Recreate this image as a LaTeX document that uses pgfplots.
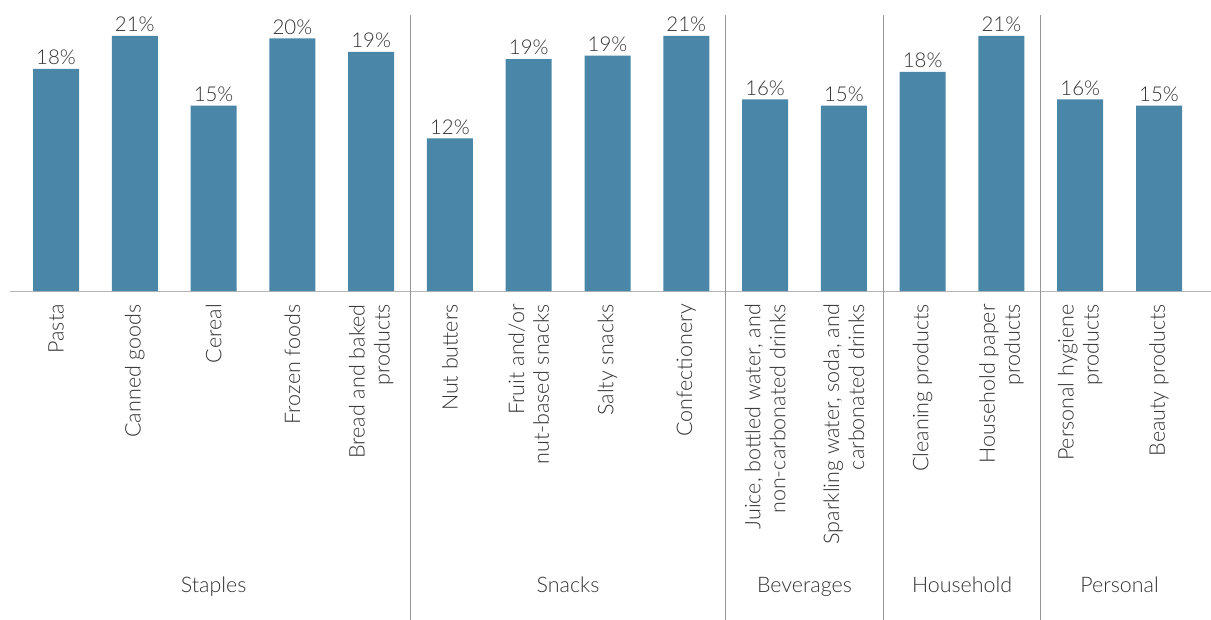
\documentclass[border=0pt]{standalone}
\usepackage{pgfplots}
\pgfplotsset{compat=1.18}
\usepackage{fontspec}
\setmainfont{Lato Light}
\definecolor{barblue}{RGB}{74,134,168}
\definecolor{txt}{RGB}{50,50,50}
\definecolor{sep}{RGB}{150,150,150}
\begin{document}
\begin{tikzpicture}
\useasboundingbox (-10bp,-329bp) rectangle (1201bp,291bp);
\begin{axis}[
  at={(0,0)}, anchor=south west,
  scale only axis, width=1201bp, height=276bp,
  xmin=-0.584, xmax=14.66, ymin=0, ymax=22.62,
  axis x line=bottom, hide y axis,
  axis line style={draw=sep!70, line width=1pt, -},
  xtick=data, major tick length=0pt,
  xticklabels={Pasta, Canned goods, Cereal, Frozen foods, {Bread and baked\\products}, Nut butters, {Fruit and/or\\nut-based snacks}, Salty snacks, Confectionery, {Juice, bottled water, and\\non-carbonated drinks}, {Sparkling water, soda, and\\carbonated drinks}, Cleaning products, {Household paper\\products}, {Personal hygiene\\products}, Beauty products},
  xticklabel style={rotate=90, anchor=east, align=right, inner sep=0pt, font=\fontsize{21.6}{25}\selectfont, text=txt},
  xticklabel shift=13bp,
  clip=false,
  point meta=explicit symbolic,
  nodes near coords={\pgfplotspointmeta\%},
  nodes near coords style={font=\fontsize{20.5}{24}\selectfont, text=txt, anchor=south, inner sep=4bp},
]
\addplot[ybar, bar width=46bp, fill=barblue, draw=none] table[x=x, y=y, meta=lab] {
x y lab
0 18.2 18
1 20.9 21
2 15.2 15
3 20.7 20
4 19.6 19
5 12.5 12
6 19.0 19
7 19.3 19
8 20.9 21
9 15.7 16
10 15.2 15
11 17.95 18
12 20.9 21
13 15.7 16
14 15.2 15
};
\draw[sep, line width=1pt] (axis cs:4.5,22.62) -- ([yshift=-329bp]axis cs:4.5,0);
\draw[sep, line width=1pt] (axis cs:8.5,22.62) -- ([yshift=-329bp]axis cs:8.5,0);
\draw[sep, line width=1pt] (axis cs:10.5,22.62) -- ([yshift=-329bp]axis cs:10.5,0);
\draw[sep, line width=1pt] (axis cs:12.5,22.62) -- ([yshift=-329bp]axis cs:12.5,0);
\node[font=\fontsize{21.5}{24}\selectfont, text=txt, anchor=base] at ([yshift=-301bp]axis cs:2,0) {Staples};
\node[font=\fontsize{21.5}{24}\selectfont, text=txt, anchor=base] at ([yshift=-301bp]axis cs:6.5,0) {Snacks};
\node[font=\fontsize{21.5}{24}\selectfont, text=txt, anchor=base] at ([yshift=-301bp]axis cs:9.5,0) {Beverages};
\node[font=\fontsize{21.5}{24}\selectfont, text=txt, anchor=base] at ([yshift=-301bp]axis cs:11.5,0) {Household};
\node[font=\fontsize{21.5}{24}\selectfont, text=txt, anchor=base] at ([yshift=-301bp]axis cs:13.5,0) {Personal};
\end{axis}
\end{tikzpicture}
\end{document}
